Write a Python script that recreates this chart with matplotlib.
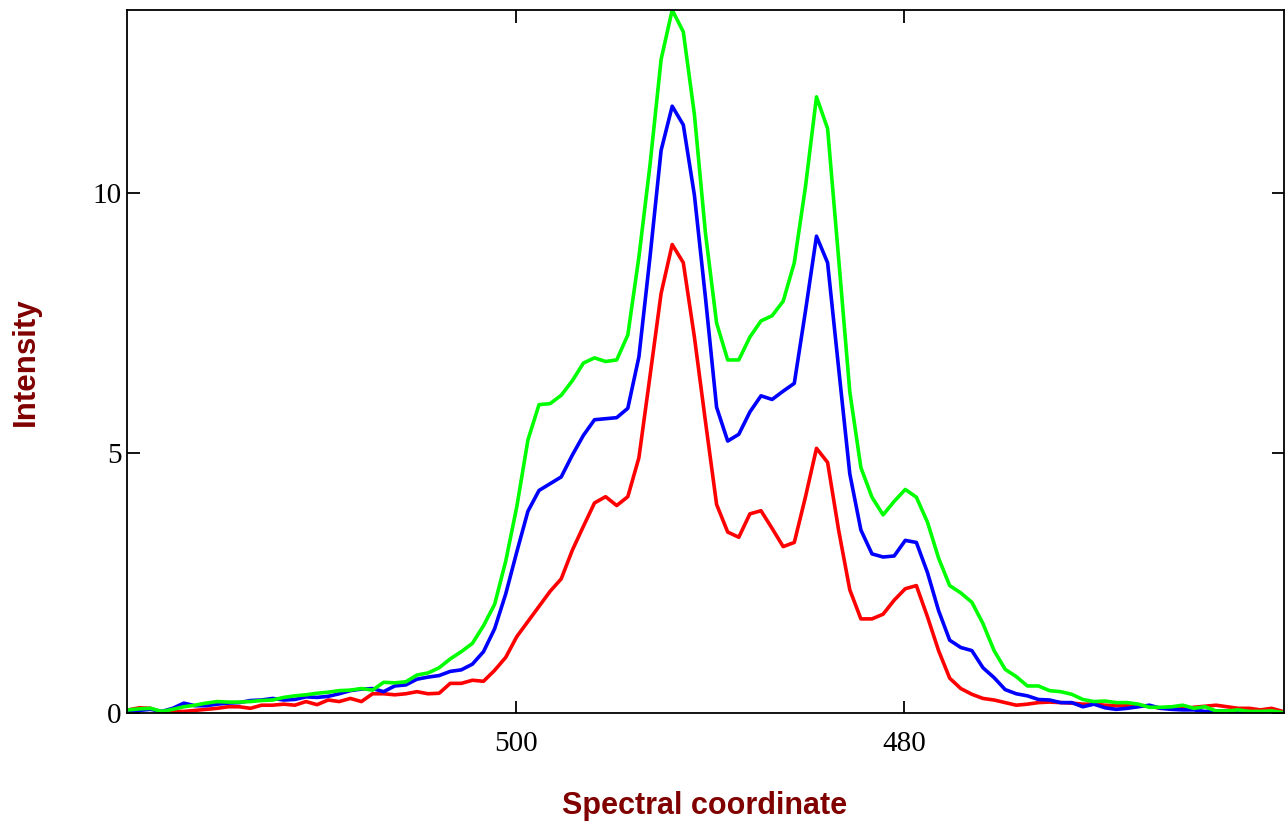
import numpy as np
import matplotlib
matplotlib.use("Agg")
import matplotlib.pyplot as plt

# spectral coordinate of each sample (axis runs from 520 down to ~460.5)
n_points = 105
coord_start, coord_end = 520.0, 460.5

# intensity, left to right
red = [0.06, 0.10, 0.09, 0.01, 0.03, 0.03, 0.05, 0.07, 0.09, 0.12,
       0.12, 0.09, 0.15, 0.15, 0.17, 0.15, 0.22, 0.16, 0.25, 0.22,
       0.28, 0.22, 0.37, 0.37, 0.35, 0.37, 0.41, 0.37, 0.38, 0.57,
       0.57, 0.63, 0.61, 0.82, 1.07, 1.47, 1.76, 2.05, 2.34, 2.58,
       3.13, 3.59, 4.04, 4.16, 3.99, 4.16, 4.91, 6.48, 8.07, 9.01,
       8.66, 7.23, 5.60, 4.01, 3.48, 3.38, 3.83, 3.89, 3.55, 3.20,
       3.28, 4.15, 5.09, 4.82, 3.51, 2.37, 1.81, 1.81, 1.90, 2.17,
       2.39, 2.45, 1.85, 1.20, 0.67, 0.47, 0.36, 0.28, 0.25, 0.20,
       0.15, 0.17, 0.20, 0.21, 0.20, 0.19, 0.17, 0.17, 0.15, 0.14,
       0.14, 0.15, 0.13, 0.09, 0.11, 0.08, 0.11, 0.13, 0.15, 0.12,
       0.09, 0.09, 0.06, 0.09, 0.03]

blue = [0.03, 0.05, 0.07, 0.03, 0.09, 0.19, 0.14, 0.14, 0.17, 0.19,
        0.20, 0.24, 0.25, 0.28, 0.25, 0.26, 0.31, 0.30, 0.32, 0.37,
        0.43, 0.46, 0.47, 0.41, 0.52, 0.54, 0.65, 0.69, 0.72, 0.80,
        0.83, 0.94, 1.18, 1.62, 2.29, 3.10, 3.88, 4.28, 4.41, 4.54,
        4.96, 5.34, 5.64, 5.66, 5.68, 5.86, 6.85, 8.77, 10.82, 11.67,
        11.31, 9.96, 7.98, 5.88, 5.23, 5.36, 5.79, 6.10, 6.03, 6.19,
        6.34, 7.72, 9.17, 8.66, 6.62, 4.60, 3.52, 3.06, 3.00, 3.02,
        3.32, 3.28, 2.70, 1.97, 1.40, 1.26, 1.20, 0.87, 0.68, 0.45,
        0.37, 0.33, 0.26, 0.25, 0.20, 0.20, 0.12, 0.17, 0.10, 0.07,
        0.09, 0.12, 0.15, 0.09, 0.07, 0.06, 0.06, 0.03, 0.04, 0.04,
        0.00, 0.00, 0.00, 0.01, 0.00]

green = [0.06, 0.08, 0.09, 0.03, 0.07, 0.12, 0.15, 0.19, 0.22, 0.21,
         0.21, 0.22, 0.24, 0.25, 0.30, 0.33, 0.35, 0.38, 0.40, 0.43,
         0.44, 0.47, 0.44, 0.59, 0.58, 0.60, 0.73, 0.77, 0.87, 1.04,
         1.18, 1.34, 1.68, 2.09, 2.92, 3.97, 5.25, 5.93, 5.95, 6.11,
         6.39, 6.73, 6.83, 6.76, 6.79, 7.27, 8.77, 10.54, 12.57, 13.52,
         13.10, 11.51, 9.22, 7.50, 6.79, 6.79, 7.23, 7.54, 7.64, 7.92,
         8.66, 10.11, 11.85, 11.24, 8.73, 6.18, 4.72, 4.15, 3.81, 4.07,
         4.30, 4.15, 3.67, 2.98, 2.45, 2.31, 2.13, 1.72, 1.20, 0.84,
         0.70, 0.52, 0.52, 0.43, 0.41, 0.36, 0.26, 0.22, 0.23, 0.20,
         0.20, 0.17, 0.11, 0.11, 0.12, 0.15, 0.09, 0.12, 0.04, 0.04,
         0.06, 0.03, 0.03, 0.04, 0.01]

x_ticks = [500, 480]
y_ticks = [0, 5, 10]

coord = np.linspace(coord_start, coord_end, n_points)

fig = plt.figure(figsize=(12.86, 8.26), dpi=100)
ax = fig.add_axes([127 / 1286, 1 - 713 / 826, 1157 / 1286, 703 / 826])

ax.plot(coord, red, color="#ff0000", lw=2.6)
ax.plot(coord, blue, color="#0000ff", lw=2.6)
ax.plot(coord, green, color="#00ff00", lw=2.6)

ax.set_xlim(520.07, 460.43)
ax.set_ylim(0, 13.52)
ax.set_xticks(x_ticks)
ax.set_yticks(y_ticks)

for sp in ax.spines.values():
    sp.set_linewidth(1.3)
    sp.set_color("black")

ax.tick_params(direction="in", length=9, width=1.3, top=True, right=True,
               labelsize=21)
ax.tick_params(axis="x", pad=13)
ax.tick_params(axis="y", pad=4)
for lab in ax.get_xticklabels() + ax.get_yticklabels():
    lab.set_family("Liberation Serif")

fig.text(705 / 1286, 1 - 806 / 826, "Spectral coordinate", ha="center",
         va="center", fontsize=22, fontweight="bold", color="#800000",
         family="Liberation Sans")
fig.text(26 / 1286, 1 - 362 / 826, "Intensity", ha="center", va="center",
         rotation=90, fontsize=22.5, fontweight="bold", color="#800000",
         family="Liberation Sans")

fig.savefig("out.png", dpi=100)
